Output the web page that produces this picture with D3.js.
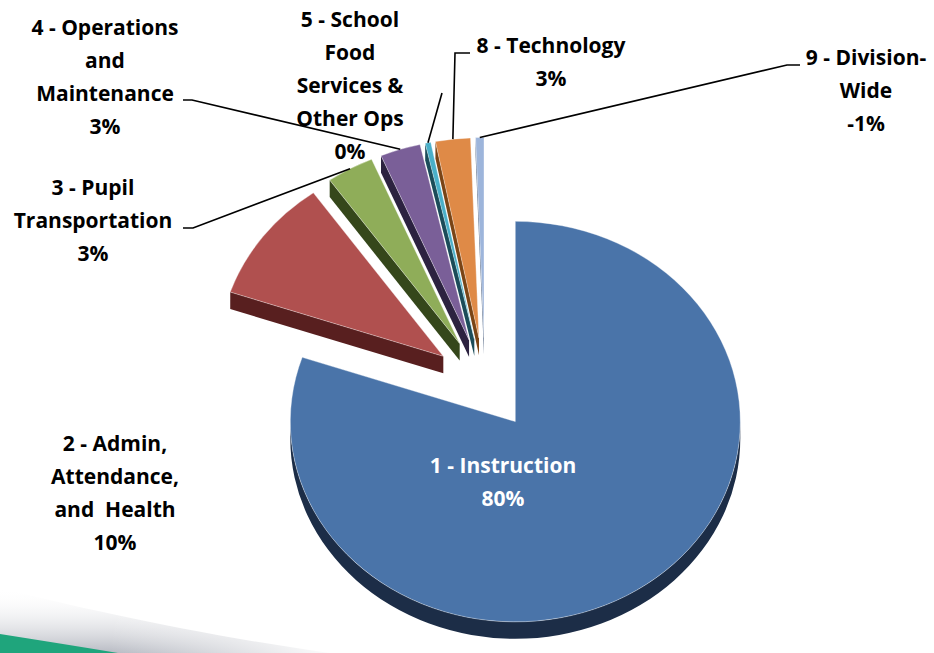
<!DOCTYPE html>
<html><head><meta charset="utf-8">
<script src="https://cdn.jsdelivr.net/npm/d3@7/dist/d3.min.js"></script>
<style>body{margin:0;background:#fff;overflow:hidden} svg{display:block}</style>
</head><body>
<svg id="c" width="934" height="653"></svg>
<script>
// ---- data ----
const categories = ["1 - Instruction", "2 - Admin, Attendance, and  Health", "3 - Pupil Transportation",
  "4 - Operations and Maintenance", "5 - School Food Services & Other Ops", "8 - Technology", "9 - Division-Wide"];
const values = [80.2, 10.0, 3.4, 2.9, 0.4, 2.5, -0.6];
const labelLines = [["1 - Instruction"], ["2 - Admin,", "Attendance,", "and  Health"], ["3 - Pupil", "Transportation"],
  ["4 - Operations", "and", "Maintenance"], ["5 - School", "Food", "Services &", "Other Ops"], ["8 - Technology"], ["9 - Division-", "Wide"]];
const colors = ["#4A74A9", "#B0504F", "#8FAD59", "#7A5F98", "#4AAFC8", "#DF8A47", "#9DB5DB"];
const sideColors = ["#1C2D47", "#581F1F", "#35471B", "#2C2240", "#1B4C59", "#7A4415", "#4E6280"];

// ---- layout ----
const svg = d3.select("#c");
const O = [485, 384], rx = 225, k = 0.89, explode = 52, depth = 17;
const D = depth / k;

const defs = svg.append("defs");
const sg = defs.append("linearGradient").attr("id", "shadow").attr("x1", 0).attr("y1", 0).attr("x2", 0).attr("y2", 1);
sg.append("stop").attr("offset", 0).attr("stop-color", "#fff").attr("stop-opacity", 0);
sg.append("stop").attr("offset", 1).attr("stop-color", "#b4b7c0").attr("stop-opacity", 0.95);
const sg2 = defs.append("linearGradient").attr("id", "shadowH").attr("x1", 0).attr("y1", 0).attr("x2", 1).attr("y2", 0);
sg2.append("stop").attr("offset", 0).attr("stop-color", "#fff").attr("stop-opacity", 0);
sg2.append("stop").attr("offset", 1).attr("stop-color", "#fff").attr("stop-opacity", 1);

// bottom-left decoration
svg.append("path").attr("d", "M0,588 C80,608 200,635 330,653 L0,653 Z").attr("fill", "url(#shadow)");
svg.append("rect").attr("x", 110).attr("y", 588).attr("width", 230).attr("height", 65).attr("fill", "url(#shadowH)");
svg.append("path").attr("d", "M0,634 C40,640 80,647 118,653 L0,653 Z").attr("fill", "#1FA57C");

const pie = d3.pie().sort(null).value(d => Math.abs(d)).startAngle(0).endAngle(2 * Math.PI);
const arcs = pie(values);
const arcGen = d3.arc().innerRadius(0).outerRadius(rx);

function apexOf(a) {
  const m = (a.startAngle + a.endAngle) / 2;
  return [O[0] + explode * Math.sin(m), O[1] - explode * k * Math.cos(m)];
}
const P = (t, r = rx, dy = 0) => [r * Math.sin(t), -r * Math.cos(t) + dy];

const order = arcs.map((a, i) => ({a, i, y: apexOf(a)[1] - k * rx * Math.cos((a.startAngle + a.endAngle) / 2) * 0.5}))
  .sort((p, q) => p.y - q.y);

order.forEach(({a, i}) => {
  const ap = apexOf(a);
  const g = svg.append("g").attr("transform", `translate(${ap[0]},${ap[1]}) scale(1,${k})`);
  const side = sideColors[i];
  const radial = t => {
    const p = P(t);
    return `M0,0L${p[0]},${p[1]}L${p[0]},${p[1] + D}L0,${D}Z`;
  };
  if (Math.sin(a.startAngle) < -1e-6) g.append("path").attr("d", radial(a.startAngle)).attr("fill", side);
  if (Math.sin(a.endAngle) > 1e-6) g.append("path").attr("d", radial(a.endAngle)).attr("fill", side);
  const b0 = Math.max(a.startAngle, Math.PI / 2), b1 = Math.min(a.endAngle, 3 * Math.PI / 2);
  if (b1 > b0) {
    const p = d3.path();
    const s = P(b0), e = P(b1);
    p.moveTo(s[0], s[1]);
    p.arc(0, 0, rx, b0 - Math.PI / 2, b1 - Math.PI / 2, false);
    p.lineTo(e[0], e[1] + D);
    p.arc(0, D, rx, b1 - Math.PI / 2, b0 - Math.PI / 2, true);
    p.closePath();
    g.append("path").attr("d", p.toString()).attr("fill", side);
  }
  g.append("path").attr("d", arcGen(a)).attr("fill", colors[i])
    .attr("stroke", "rgba(255,255,255,0.45)").attr("stroke-width", 0.8).attr("vector-effect", "non-scaling-stroke");
});

function anchor(i) {
  const a = arcs[i], ap = apexOf(a), m = (a.startAngle + a.endAngle) / 2;
  return [ap[0] + rx * Math.sin(m), ap[1] - rx * k * Math.cos(m)];
}

const leaders = [
  {i: 2, pts: [[193, 228], [183, 228]]},
  {i: 3, pts: [[192, 100], [183, 100]]},
  {i: 4, pts: [[442, 93]]},
  {i: 5, pts: [[455, 53], [470, 53]]},
  {i: 6, pts: [[787, 65], [800, 65]]}
];
const line = d3.line();
leaders.forEach(l => {
  svg.append("path").attr("d", line([anchor(l.i), ...l.pts])).attr("fill", "none")
    .attr("stroke", "#000").attr("stroke-width", 1.6);
});

const labelPos = [[503, 465], [115, 443], [93, 187], [105, 27], [350, 19], [551, 45], [866, 57]];
const lh = 33;
arcs.forEach((a, i) => {
  const lines = [...labelLines[i], Math.round(values[i]) + "%"];
  const t = svg.append("text").attr("text-anchor", "middle")
    .attr("font-family", "'Open Sans', Lato, sans-serif").attr("font-weight", "bold").attr("font-size", 21)
    .attr("fill", i === 0 ? "#fff" : "#000");
  lines.forEach((s, j) => {
    t.append("tspan").attr("x", labelPos[i][0]).attr("y", labelPos[i][1] + j * lh).attr("dy", "0.36em")
      .style("white-space", "pre").text(s);
  });
});
</script>
</body></html>
